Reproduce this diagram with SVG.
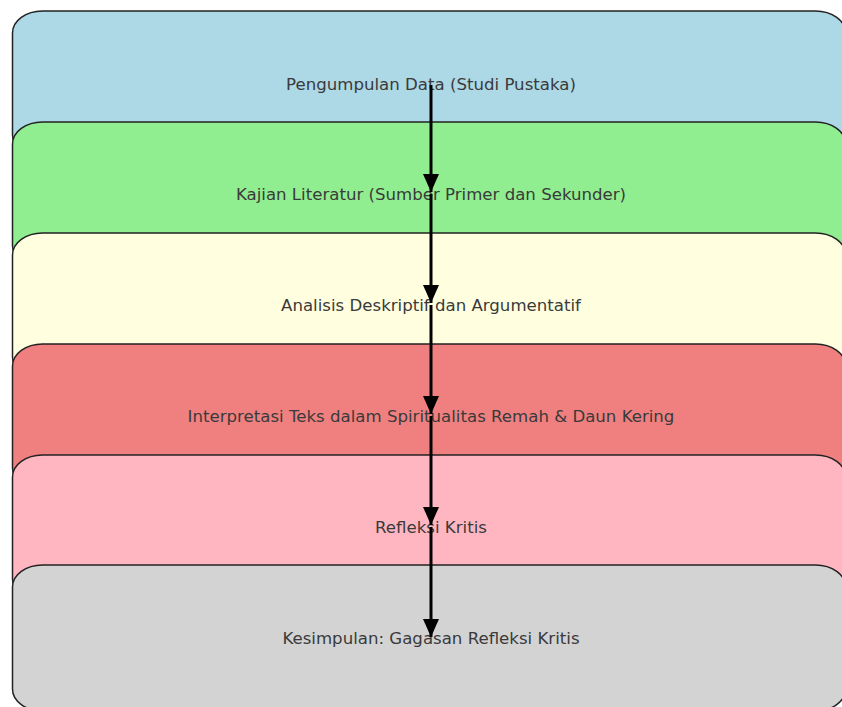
<svg xmlns="http://www.w3.org/2000/svg" width="842" height="707" viewBox="0 0 842 707">
<style>
.box{stroke:#222;stroke-width:1.5}
.lbl{font-family:"DejaVu Sans",sans-serif;font-size:16.6px;fill:#3a3a3a;text-anchor:middle;dominant-baseline:central}
.conn{stroke:#000;stroke-width:3;fill:none}
</style>
<defs>
<marker id="ah" viewBox="0 0 18 16" refX="18" refY="8" markerWidth="18" markerHeight="16" markerUnits="userSpaceOnUse" orient="auto">
<path d="M0,0 L18,8 L0,16 Z" fill="#000"/>
</marker>
</defs>
<rect width="842" height="707" fill="#fff"/>
<g id="n1"><rect class="box" x="12.5" y="11" width="833" height="146" rx="30" ry="22" fill="#ADD8E6"/><text class="lbl" x="431" y="84">Pengumpulan Data (Studi Pustaka)</text></g>
<g id="n2"><rect class="box" x="12.5" y="122" width="833" height="146" rx="30" ry="22" fill="#90EE90"/><text class="lbl" x="431" y="194">Kajian Literatur (Sumber Primer dan Sekunder)</text></g>
<g id="n3"><rect class="box" x="12.5" y="233" width="833" height="146" rx="30" ry="22" fill="#FFFFE0"/><text class="lbl" x="431" y="305">Analisis Deskriptif dan Argumentatif</text></g>
<g id="n4"><rect class="box" x="12.5" y="344" width="833" height="146" rx="30" ry="22" fill="#F08080"/><text class="lbl" x="431" y="416">Interpretasi Teks dalam Spiritualitas Remah &amp; Daun Kering</text></g>
<g id="n5"><rect class="box" x="12.5" y="455" width="833" height="146" rx="30" ry="22" fill="#FFB6C1"/><text class="lbl" x="431" y="527">Refleksi Kritis</text></g>
<g id="n6"><rect class="box" x="12.5" y="565" width="833" height="146" rx="30" ry="22" fill="#D3D3D3"/><text class="lbl" x="431" y="638">Kesimpulan: Gagasan Refleksi Kritis</text></g>
<g id="connectors">
<line class="conn" x1="431" y1="85" x2="431" y2="192" marker-end="url(#ah)"/>
<line class="conn" x1="431" y1="194" x2="431" y2="303" marker-end="url(#ah)"/>
<line class="conn" x1="431" y1="305" x2="431" y2="414" marker-end="url(#ah)"/>
<line class="conn" x1="431" y1="416" x2="431" y2="525" marker-end="url(#ah)"/>
<line class="conn" x1="431" y1="527" x2="431" y2="637" marker-end="url(#ah)"/>
</g>
</svg>
